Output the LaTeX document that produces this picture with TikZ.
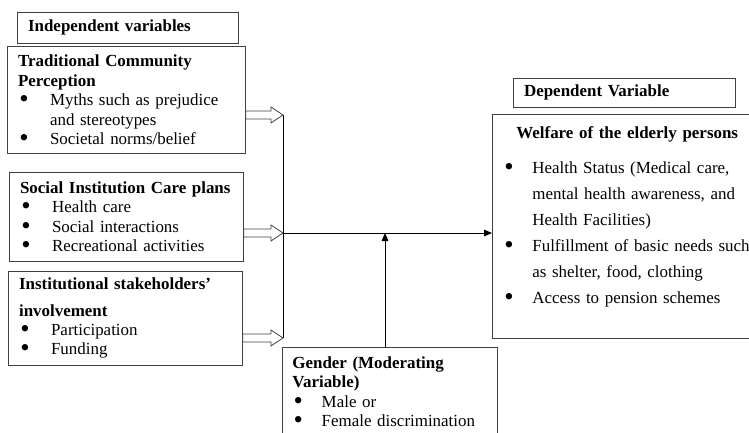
\documentclass[tikz,border=0pt]{standalone}
\usepackage{fontspec}
\setmainfont{Liberation Serif}
\usetikzlibrary{arrows.meta,positioning,calc}

\newcommand{\itm}[2][24pt]{\makebox[#1][l]{\hspace{1pt}\smash{\raisebox{-1.4pt}{\fontsize{20}{20}\selectfont\textbullet}}}#2}

\begin{document}
\begin{tikzpicture}[x=0.75pt, y=-0.75pt,
    box/.style={draw=black!75, line width=0.6pt, anchor=north west, align=left, inner xsep=8pt, inner ysep=2pt, font=\fontsize{12.7}{14.6}\selectfont},
    head/.style={box, font=\fontsize{12.7}{14.6}\selectfont\bfseries},
    line/.style={draw=black, line width=0.6pt},
    hollow/.style={draw=black!75, line width=0.6pt, fill=white,
        to path={let \p1=(\tikztostart), \p2=(\tikztotarget) in
            (\x1,\y1+3pt) -- (\x2-9pt,\y1+3pt) -- (\x2-9pt,\y1+6pt) -- (\x2,\y1)
            -- (\x2-9pt,\y1-6pt) -- (\x2-9pt,\y1-3pt) -- (\x1,\y1-3pt) -- cycle}}]
    \useasboundingbox (0,0) rectangle (749,432);

    % independent side
    \node[head, text width=149.75pt, minimum height=23.25pt] (indep) at (17,12) {Independent variables};
    \node[box, text width=162.5pt, minimum height=80.25pt] (trad) at (7,46) {\textbf{Traditional Community}\\ \textbf{Perception}\\ \itm{Myths such as prejudice}\\ \hspace*{24pt}and stereotypes\\ \itm{Societal norms/belief}};
    \node[box, text width=159.5pt, minimum height=66.75pt] (care) at (9,172) {\textbf{Social Institution Care plans}\\ \itm{Health care}\\ \itm{Social interactions}\\ \itm{Recreational activities}};
    \node[box, text width=159.5pt, minimum height=70.5pt] (stake) at (8,271) {\textbf{Institutional stakeholders'}\\[5pt] \textbf{involvement}\\ \itm{Participation}\\ \itm{Funding}};

    % dependent side
    \node[head, text width=150.5pt, minimum height=21.75pt] (dep) at (513,78) {Dependent Variable};
    \node[box, text width=200pt, minimum height=168pt, font=\fontsize{12.7}{19.5}\selectfont] (welfare) at (492,114) {\hspace*{10pt}\textbf{Welfare of the elderly persons}\\[7pt] \itm[22pt]{Health Status (Medical care,}\\ \hspace*{22pt}mental health awareness, and\\ \hspace*{22pt}Health Facilities)\\ \itm[22pt]{Fulfillment of basic needs such}\\ \hspace*{22pt}as shelter, food, clothing\\ \itm[22pt]{Access to pension schemes}\rule[-17pt]{0pt}{0pt}};

    % moderating variable
    \node[box, text width=146pt, inner xsep=7.5pt, inner ysep=7pt] (gender) at (282,347) {\textbf{Gender (Moderating}\\ \textbf{Variable)}\\ \itm[22pt]{Male or}\\ \itm[22pt]{Female discrimination}\rule[-14pt]{0pt}{0pt}};

    % connectors
    \coordinate (b1) at (283,115);
    \coordinate (b2) at (283,233);
    \coordinate (b3) at (283,338);
    \coordinate (mod) at (385,233);
    \draw[line] (b1) -- (b3);
    \draw[hollow] (b1 -| trad.east) to (b1);
    \draw[hollow] (b2 -| care.east) to (b2);
    \draw[hollow] (b3 -| stake.east) to (b3);
    \draw[line, -{Triangle[length=6pt, width=5pt]}] (b2) -- (b2 -| welfare.west);
    \draw[line, -{Triangle[length=6pt, width=5pt]}] (mod |- gender.north) -- (mod);
\end{tikzpicture}
\end{document}
